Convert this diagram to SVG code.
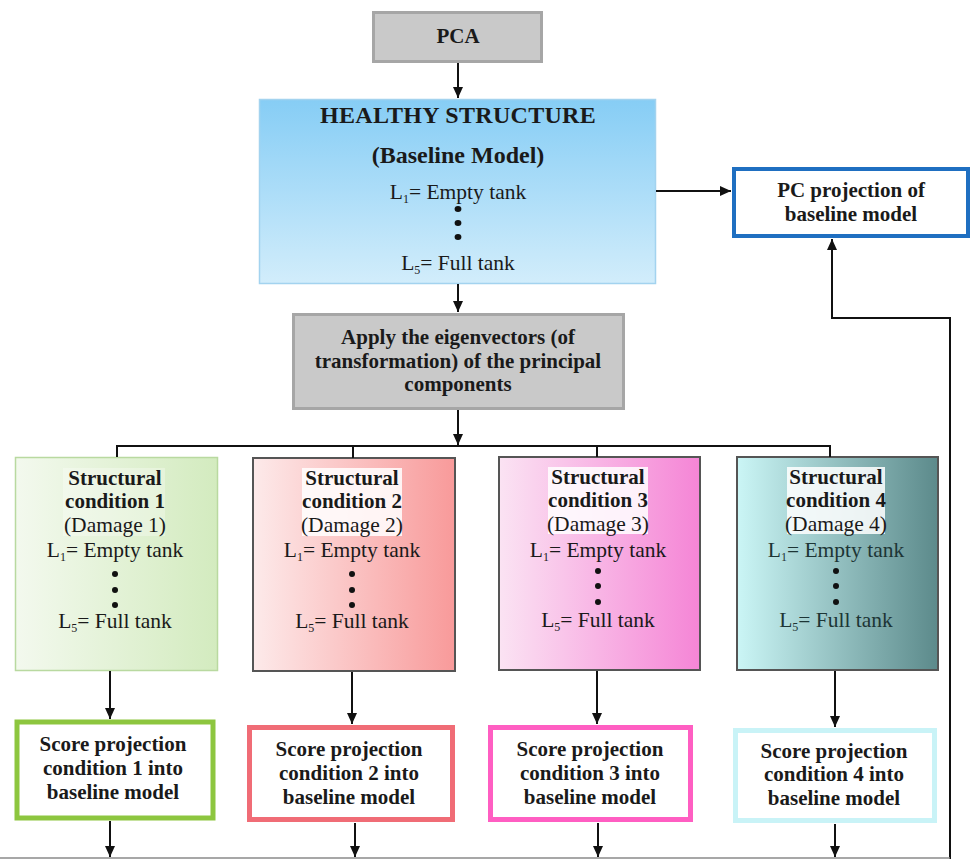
<svg xmlns="http://www.w3.org/2000/svg" width="972" height="859" viewBox="0 0 972 859">
<defs>
<marker id="ah" markerUnits="userSpaceOnUse" markerWidth="12" markerHeight="12" refX="11" refY="6" orient="auto"><path d="M0,1 L11,6 L0,11 z" fill="#111"/></marker>
<linearGradient id="gBlue" x1="0" y1="0" x2="0" y2="1"><stop offset="0" stop-color="#86cdf5"/><stop offset="1" stop-color="#d2edfb"/></linearGradient>
<linearGradient id="gGreen" x1="0" y1="0" x2="1" y2="0"><stop offset="0" stop-color="#f3f9ee"/><stop offset="1" stop-color="#d3ebbf"/></linearGradient>
<linearGradient id="gRed" x1="0" y1="0" x2="1" y2="0"><stop offset="0" stop-color="#fdeaea"/><stop offset="1" stop-color="#f89a9a"/></linearGradient>
<linearGradient id="gPink" x1="0" y1="0" x2="1" y2="0"><stop offset="0" stop-color="#fbe3f3"/><stop offset="1" stop-color="#f585d6"/></linearGradient>
<linearGradient id="gTeal" x1="0" y1="0" x2="1" y2="0"><stop offset="0" stop-color="#cbf6f6"/><stop offset="1" stop-color="#5c8a8b"/></linearGradient>
</defs>
<style>
text{font-family:"Liberation Serif","Times New Roman",serif;fill:#1a1a1a;text-anchor:middle}
.b{font-weight:bold;font-size:21px}
.n{font-size:21.5px}
.hb{font-weight:bold;font-size:24px}
.sub{font-size:12px}
.gray{fill:#c9c9c9;stroke:#a6a6a6;stroke-width:3}
.cond{stroke:#555;stroke-width:2}
.hl{fill:#ffffff;opacity:0.85}
.score{fill:#fff;stroke-width:5}
.conn{fill:none;stroke:#111;stroke-width:2}
.dot{fill:#111}
</style>
<rect width="972" height="859" fill="#ffffff"/>

<g id="pca">
<rect class="gray" x="373.5" y="12.5" width="168" height="49"/>
<text class="b" x="458" y="43">PCA</text>
</g>

<g id="healthy">
<rect x="259.5" y="99.5" width="396" height="184" fill="url(#gBlue)" stroke="#a3d3ef" stroke-width="1.5"/>
<text class="hb" x="458" y="123" letter-spacing="0.3">HEALTHY STRUCTURE</text>
<text class="hb" x="458" y="163">(Baseline Model)</text>
<text class="n" x="458" y="199">L<tspan class="sub" dy="4">1</tspan><tspan dy="-4">= Empty tank</tspan></text>
<ellipse class="dot" cx="458" cy="209" rx="3.4" ry="3"/>
<ellipse class="dot" cx="458" cy="223" rx="3.4" ry="3"/>
<ellipse class="dot" cx="458" cy="237" rx="3.4" ry="3"/>
<text class="n" x="458" y="270">L<tspan class="sub" dy="4">5</tspan><tspan dy="-4">= Full tank</tspan></text>
</g>

<g id="pcproj">
<rect x="734" y="169" width="234" height="67" fill="#fff" stroke="#1f6fc1" stroke-width="4"/>
<text class="b" x="851" y="197">PC projection of</text>
<text class="b" x="851" y="221">baseline model</text>
</g>

<g id="apply">
<rect class="gray" x="293.5" y="314.5" width="330" height="94"/>
<text class="b" x="458" y="344">Apply the eigenvectors (of</text>
<text class="b" x="458" y="368">transformation) of the principal</text>
<text class="b" x="458" y="391">components</text>
</g>

<g id="cond1">
<rect x="15.5" y="457.5" width="202" height="213" fill="url(#gGreen)" stroke="#b9d9a0" stroke-width="1.5"/>
<rect class="hl" x="63" y="468" width="102" height="68" style="opacity:0.3"/>
<text class="b" x="115" y="485">Structural</text>
<text class="b" x="115" y="508">condition 1</text>
<text class="n" x="115" y="532">(Damage 1)</text>
<text class="n" x="115" y="557">L<tspan class="sub" dy="4">1</tspan><tspan dy="-4">= Empty tank</tspan></text>
<circle class="dot" cx="115" cy="574" r="3"/>
<circle class="dot" cx="115" cy="590" r="3"/>
<circle class="dot" cx="115" cy="605" r="3"/>
<text class="n" x="115" y="628">L<tspan class="sub" dy="4">5</tspan><tspan dy="-4">= Full tank</tspan></text>
</g>

<g id="cond2">
<rect class="cond" x="253" y="458" width="202" height="213" fill="url(#gRed)"/>
<rect class="hl" x="302" y="468" width="100" height="68"/>
<text class="b" x="352" y="485">Structural</text>
<text class="b" x="352" y="508">condition 2</text>
<text class="n" x="352" y="532">(Damage 2)</text>
<text class="n" x="352" y="557">L<tspan class="sub" dy="4">1</tspan><tspan dy="-4">= Empty tank</tspan></text>
<circle class="dot" cx="352" cy="574" r="3"/>
<circle class="dot" cx="352" cy="590" r="3"/>
<circle class="dot" cx="352" cy="605" r="3"/>
<text class="n" x="352" y="628">L<tspan class="sub" dy="4">5</tspan><tspan dy="-4">= Full tank</tspan></text>
</g>

<g id="cond3">
<rect class="cond" x="499" y="457" width="201" height="213" fill="url(#gPink)"/>
<rect class="hl" x="548" y="467" width="100" height="67"/>
<text class="b" x="598" y="484">Structural</text>
<text class="b" x="598" y="507">condition 3</text>
<text class="n" x="598" y="531">(Damage 3)</text>
<text class="n" x="598" y="557">L<tspan class="sub" dy="4">1</tspan><tspan dy="-4">= Empty tank</tspan></text>
<circle class="dot" cx="598" cy="571" r="3"/>
<circle class="dot" cx="598" cy="586" r="3"/>
<circle class="dot" cx="598" cy="602" r="3"/>
<text class="n" x="598" y="627">L<tspan class="sub" dy="4">5</tspan><tspan dy="-4">= Full tank</tspan></text>
</g>

<g id="cond4">
<rect class="cond" x="737" y="457" width="201" height="213" fill="url(#gTeal)"/>
<rect class="hl" x="787" y="467" width="98" height="67"/>
<text class="b" x="836" y="484">Structural</text>
<text class="b" x="836" y="507">condition 4</text>
<text class="n" x="836" y="531">(Damage 4)</text>
<text class="n" x="836" y="557" style="fill:#1d3535">L<tspan class="sub" dy="4">1</tspan><tspan dy="-4">= Empty tank</tspan></text>
<circle class="dot" cx="836" cy="571" r="3"/>
<circle class="dot" cx="836" cy="586" r="3"/>
<circle class="dot" cx="836" cy="602" r="3"/>
<text class="n" x="836" y="627" style="fill:#1d3535">L<tspan class="sub" dy="4">5</tspan><tspan dy="-4">= Full tank</tspan></text>
</g>

<g id="score1">
<rect class="score" x="17" y="722" width="196" height="96" stroke="#8dc63f" stroke-width="4"/>
<text class="b" x="113" y="751">Score projection</text>
<text class="b" x="113" y="775">condition 1 into</text>
<text class="b" x="113" y="799">baseline model</text>
</g>

<g id="score2">
<rect class="score" x="249.5" y="727.5" width="203" height="92" stroke="#f06c76"/>
<text class="b" x="349" y="756">Score projection</text>
<text class="b" x="349" y="780">condition 2 into</text>
<text class="b" x="349" y="804">baseline model</text>
</g>

<g id="score3">
<rect class="score" x="490.5" y="727.5" width="200" height="92" stroke="#ff5ec2"/>
<text class="b" x="590" y="756">Score projection</text>
<text class="b" x="590" y="780">condition 3 into</text>
<text class="b" x="590" y="804">baseline model</text>
</g>

<g id="score4">
<rect class="score" x="735.5" y="730.5" width="199" height="90" stroke="#c9f3f7"/>
<text class="b" x="834" y="758">Score projection</text>
<text class="b" x="834" y="781">condition 4 into</text>
<text class="b" x="834" y="805">baseline model</text>
</g>

<g id="connectors">
<path class="conn" d="M458,63 V98" marker-end="url(#ah)"/>
<path class="conn" d="M458,284 V312" marker-end="url(#ah)"/>
<path class="conn" d="M458,410 V445" marker-end="url(#ah)"/>
<path class="conn" d="M117,457 V446 H830 V457"/>
<path class="conn" d="M353,446 V458"/>
<path class="conn" d="M597,446 V457"/>
<path class="conn" d="M656,191 H731" marker-end="url(#ah)"/>
<path class="conn" d="M950,859 V318 H832 V239" marker-end="url(#ah)"/>
<path class="conn" d="M110,671 V719" marker-end="url(#ah)"/>
<path class="conn" d="M352,672 V724" marker-end="url(#ah)"/>
<path class="conn" d="M597,671 V724" marker-end="url(#ah)"/>
<path class="conn" d="M835,671 V727" marker-end="url(#ah)"/>
<path class="conn" d="M110,821 V857" marker-end="url(#ah)"/>
<path class="conn" d="M355,823 V857" marker-end="url(#ah)"/>
<path class="conn" d="M598,823 V857" marker-end="url(#ah)"/>
<path class="conn" d="M835,824 V857" marker-end="url(#ah)"/>
<path d="M0,858 H950" stroke="#8a8a8a" stroke-width="1.5" fill="none"/>
</g>
</svg>
